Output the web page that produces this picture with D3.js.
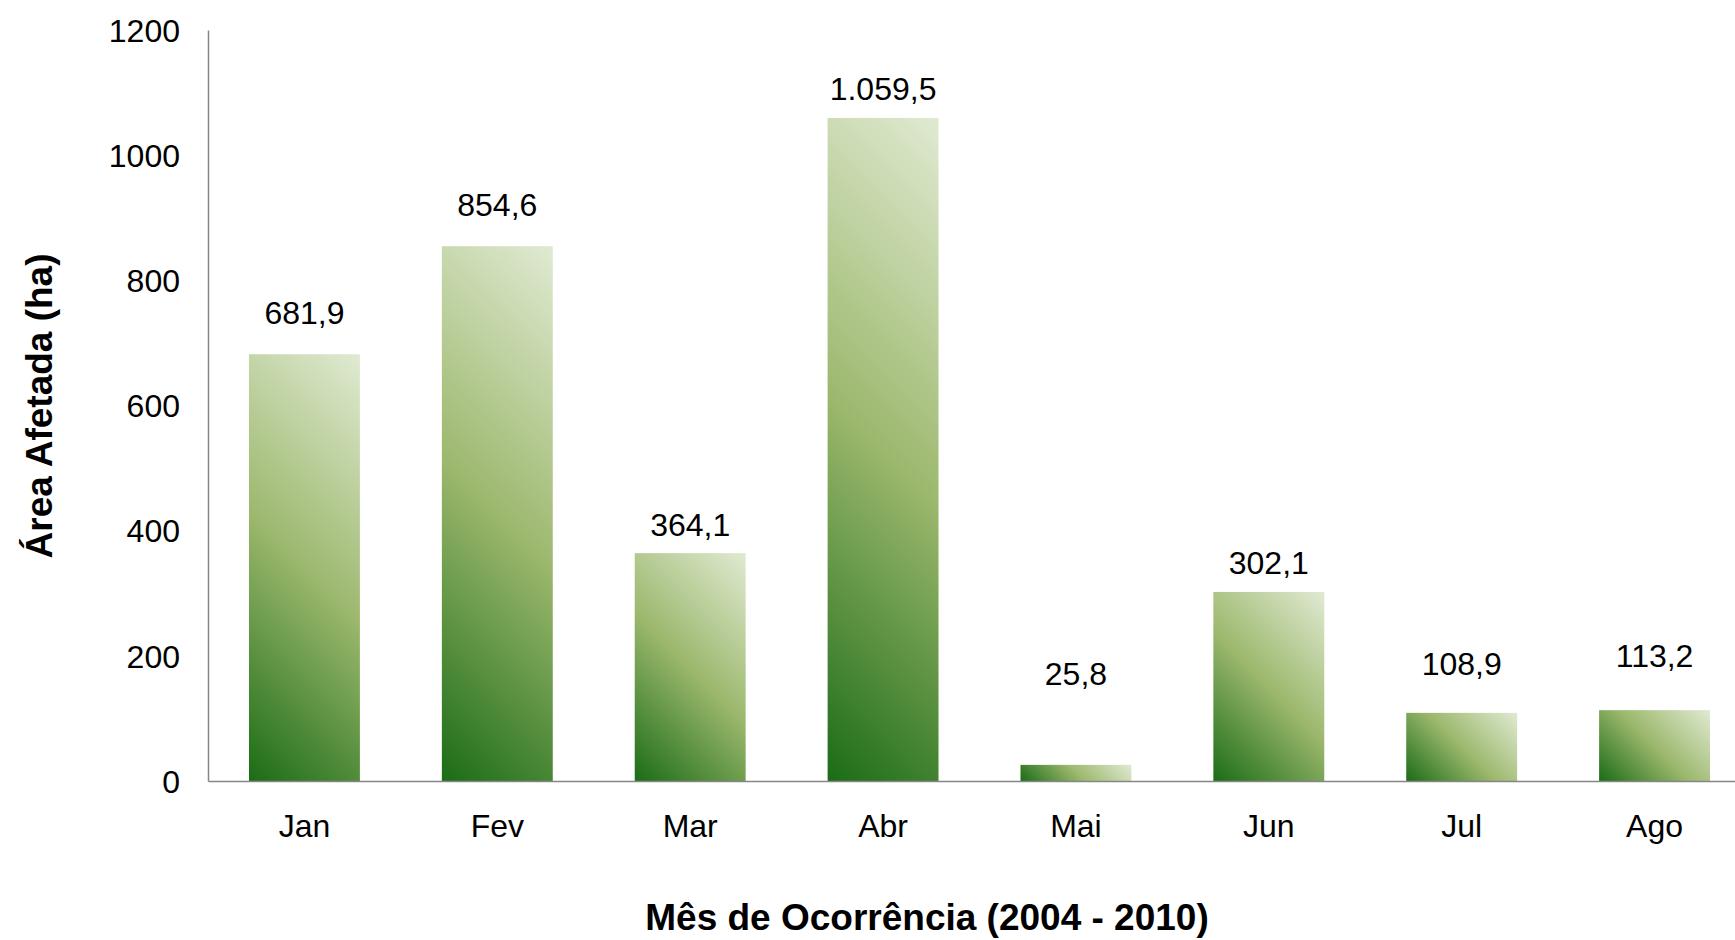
<!DOCTYPE html>
<html>
<head>
<meta charset="utf-8">
<script src="https://cdn.jsdelivr.net/npm/d3@7"></script>
<style>
  body { margin: 0; background: #fff; }
  text { font-family: "Liberation Sans", Arial, sans-serif; fill: #000; }
</style>
</head>
<body>
<div id="chart"></div>
<script>
// Data
const months = ['Jan', 'Fev', 'Mar', 'Abr', 'Mai', 'Jun', 'Jul', 'Ago'];
const areas = [681.9, 854.6, 364.1, 1059.5, 25.8, 302.1, 108.9, 113.2];
const yTicks = [0, 200, 400, 600, 800, 1000, 1200];

// Labels were nudged by hand in the original, so keep the lift per bar (px)
const labelLift = [41, 41, 28, 29, 91, 29, 49, 54];

const width = 1735;
const height = 940;
const margin = { top: 30, right: -16, bottom: 159, left: 208 };

const svg = d3.select('#chart').append('svg')
    .attr('width', width)
    .attr('height', height);

const xScale = d3.scaleBand()
    .domain(months)
    .range([margin.left, width - margin.right])
    .paddingInner(0.425)
    .paddingOuter(0.2125);

const yScale = d3.scaleLinear()
    .domain([0, 1200])
    .range([height - margin.bottom, margin.top]);

// One gradient per bar: 45 degrees, dark bottom-left to pale top-right
const defs = svg.append('defs');
const grads = defs.selectAll('linearGradient')
    .data(months)
    .enter().append('linearGradient')
    .attr('id', (d, i) => `barFill${i}`)
    .attr('gradientUnits', 'userSpaceOnUse')
    .each(function(d, i) {
        const x0 = xScale(d);
        const y0 = yScale(0);
        const w = xScale.bandwidth();
        const h = yScale(0) - yScale(areas[i]);
        const s = (w + h) / 2;
        d3.select(this)
            .attr('x1', x0).attr('y1', y0)
            .attr('x2', x0 + s).attr('y2', y0 - s);
    });
grads.append('stop').attr('offset', '0%').attr('stop-color', '#1b6c16');
grads.append('stop').attr('offset', '50%').attr('stop-color', '#9cb86d');
grads.append('stop').attr('offset', '100%').attr('stop-color', '#e0ead2');

// Bars
svg.selectAll('.bar')
    .data(months)
    .enter().append('rect')
    .attr('class', 'bar')
    .attr('x', d => xScale(d))
    .attr('y', (d, i) => yScale(areas[i]))
    .attr('width', xScale.bandwidth())
    .attr('height', (d, i) => yScale(0) - yScale(areas[i]))
    .attr('fill', (d, i) => `url(#barFill${i})`);

// Y axis
const yAxis = svg.append('g')
    .attr('transform', `translate(${margin.left}, 0)`)
    .call(d3.axisLeft(yScale).tickValues(yTicks).tickSize(0).tickPadding(28).tickFormat(d3.format('d')));
yAxis.select('.domain').attr('stroke', '#868686').attr('stroke-width', 1.5);
yAxis.selectAll('text').style('font-size', '32px').attr('dy', '0.35em');

// X axis
const xAxis = svg.append('g')
    .attr('transform', `translate(0, ${yScale(0)})`)
    .call(d3.axisBottom(xScale).tickSize(0).tickPadding(33));
xAxis.select('.domain').attr('stroke', '#868686').attr('stroke-width', 1.5);
xAxis.selectAll('text').style('font-size', '32px');

// Value labels, Brazilian number format
const ptBR = d3.formatLocale({ decimal: ',', thousands: '.', grouping: [3], currency: ['R$', ''] });
const fmt = ptBR.format(',.1f');

svg.selectAll('.value')
    .data(months)
    .enter().append('text')
    .attr('class', 'value')
    .attr('x', d => xScale(d) + xScale.bandwidth() / 2)
    .attr('y', (d, i) => yScale(areas[i]) - labelLift[i])
    .attr('dy', '0.35em')
    .attr('text-anchor', 'middle')
    .style('font-size', '32px')
    .text((d, i) => fmt(areas[i]));

// Axis titles
svg.append('text')
    .attr('transform', 'translate(39, 406) rotate(-90)')
    .attr('text-anchor', 'middle')
    .attr('dy', '0.35em')
    .style('font-size', '37px')
    .style('font-weight', 'bold')
    .text('Área Afetada (ha)');

svg.append('text')
    .attr('x', 927)
    .attr('y', 917)
    .attr('dy', '0.35em')
    .attr('text-anchor', 'middle')
    .style('font-size', '37px')
    .style('font-weight', 'bold')
    .text('Mês de Ocorrência (2004 - 2010)');
</script>
</body>
</html>
